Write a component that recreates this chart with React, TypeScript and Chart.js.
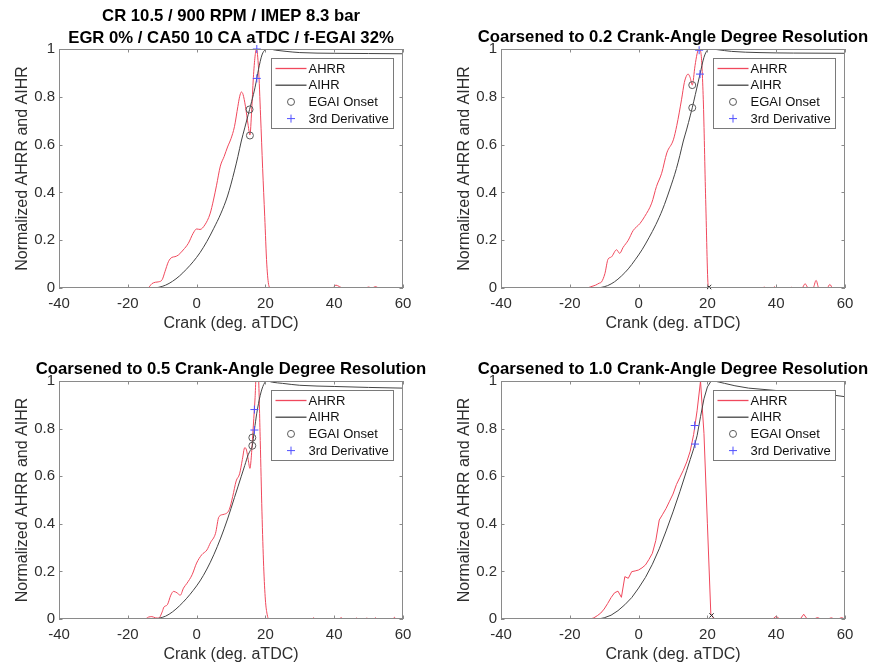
import React, { useEffect, useRef } from 'react';
import { Chart, registerables } from 'chart.js';

Chart.register(...registerables);

const FONT = "'Liberation Sans', Arial, Helvetica, sans-serif";
Chart.defaults.font.family = FONT;

// ---------- shared axis content ----------
const crankTicks = [-40, -20, 0, 20, 40, 60];
const normTicks = [0, 0.2, 0.4, 0.6, 0.8, 1];
const xAxisTitle = 'Crank (deg. aTDC)';
const yAxisTitle = 'Normalized AHRR and AIHR';
const seriesNames = ['AHRR', 'AIHR', 'EGAI Onset', '3rd Derivative'];

// ---------- panel titles ----------
const title1 = ['CR 10.5 / 900 RPM / IMEP 8.3 bar', 'EGR 0% / CA50 10 CA aTDC / f-EGAI 32%'];
const title2 = ['Coarsened to 0.2 Crank-Angle Degree Resolution'];
const title3 = ['Coarsened to 0.5 Crank-Angle Degree Resolution'];
const title4 = ['Coarsened to 1.0 Crank-Angle Degree Resolution'];

// ---------- panel 1 (original resolution) ----------
const p1AhrrCrank = [-40, -15, -14, -13, -12, -11, -10, -9.2, -8.2, -7.2, -6.3, -5.3, -3.9, -2.4, -1, 0, 1, 2.4, 3.9, 4.9, 5.8, 6.9, 8, 9, 10, 11, 12, 12.5, 13, 13.5, 14.2, 15, 15.5, 16, 16.5, 17, 17.4, 18, 18.6, 19.2, 19.8, 20.4, 21, 21.5, 39.5, 40.5, 41.5, 42.5, 49, 50, 51, 52, 53, 60];
const p1AhrrValue = [0, 0, 0.002, 0.018, 0.024, 0.026, 0.035, 0.068, 0.11, 0.128, 0.131, 0.138, 0.159, 0.187, 0.229, 0.247, 0.245, 0.264, 0.31, 0.368, 0.43, 0.51, 0.55, 0.59, 0.625, 0.675, 0.76, 0.8, 0.82, 0.81, 0.76, 0.68, 0.64, 0.74, 0.88, 0.97, 1.0, 0.92, 0.72, 0.5, 0.3, 0.1, 0.01, 0, 0, 0.012, 0.006, 0, 0, 0.004, 0, 0.006, 0, 0];
const p1AihrCrank = [-40, -13, -11, -9, -7, -5, -3, -1, 1, 3, 5, 7, 9, 11, 12, 13, 14, 15, 15.4, 16, 17, 17.5, 18, 19, 20, 21, 23, 26, 30, 40, 50, 60];
const p1AihrValue = [0, 0, 0.003, 0.012, 0.028, 0.05, 0.078, 0.11, 0.148, 0.195, 0.25, 0.31, 0.385, 0.49, 0.55, 0.615, 0.67, 0.725, 0.747, 0.78, 0.84, 0.877, 0.915, 0.975, 0.997, 1.0, 0.995, 0.99, 0.985, 0.982, 0.981, 0.98];
const p1OnsetCrank = [15.4, 15.5];
const p1OnsetValue = [0.747, 0.638];
const p1DerivCrank = [17.5, 17.5];
const p1DerivValue = [1.0, 0.877];

// ---------- panel 2 (0.2 CAD) ----------
const p2AhrrCrank = [-40, -15, -14, -12.5, -11.5, -10.8, -9.8, -8.9, -7.9, -6.4, -5.5, -4.5, -3, -1.6, 0.4, 1.8, 3.8, 5.2, 6.7, 8.2, 10.1, 11.1, 12.5, 13.3, 14, 14.4, 15, 15.6, 16.4, 17, 17.5, 18.1, 18.8, 19.5, 20.3, 36, 36.5, 37, 39, 39.5, 40, 44, 44.5, 45, 47.5, 48.4, 49.3, 50.7, 51.6, 52.4, 54.8, 55.6, 56.4, 60];
const p2AhrrValue = [0, 0, 0.005, 0.012, 0.02, 0.025, 0.06, 0.12, 0.13, 0.16, 0.145, 0.17, 0.2, 0.24, 0.27, 0.3, 0.355, 0.425, 0.48, 0.565, 0.62, 0.68, 0.79, 0.86, 0.89, 0.895, 0.88, 0.849, 0.93, 0.98, 1.0, 0.985, 0.79, 0.37, 0, 0, 0.004, 0, 0, 0.005, 0, 0, 0.003, 0, 0, 0.018, 0, 0, 0.032, 0, 0, 0.015, 0, 0];
const p2AihrCrank = [-40, -12, -11, -9, -7, -5, -3, -1, 1, 3, 5, 7, 9, 11, 12, 13, 14, 15, 15.6, 16.5, 17.85, 19, 20, 21, 23, 27, 35, 45, 60];
const p2AihrValue = [0, 0, 0.002, 0.01, 0.026, 0.05, 0.08, 0.118, 0.16, 0.21, 0.265, 0.33, 0.41, 0.5, 0.555, 0.615, 0.665, 0.72, 0.754, 0.81, 0.895, 0.965, 0.995, 1.0, 0.997, 0.99, 0.985, 0.983, 0.982];
const p2OnsetCrank = [15.6, 15.6];
const p2OnsetValue = [0.849, 0.754];
const p2DerivCrank = [17.6, 17.85];
const p2DerivValue = [0.995, 0.895];
const p2EndCrank = [20.5];
const p2EndValue = [0.004];

// ---------- panel 3 (0.5 CAD) ----------
const p3AhrrCrank = [-40, -15, -14, -13, -12, -11, -10, -9.5, -8.5, -7.5, -6.7, -5.7, -4.75, -3.8, -2.8, -1.3, 0, 1.5, 3, 4, 5.5, 6.5, 8, 9.5, 10.5, 11.5, 12.5, 13.3, 14, 14.5, 15, 15.5, 16, 16.5, 17, 17.5, 18, 18.5, 19, 19.5, 20, 20.5, 21, 33.5, 34, 34.5, 41.5, 42, 42.5, 46, 46.5, 47, 49, 49.5, 50, 51.5, 52, 52.5, 57, 57.5, 58, 60];
const p3AhrrValue = [0, 0, 0.008, 0.01, 0.005, 0.004, 0.03, 0.05, 0.06, 0.1, 0.116, 0.11, 0.1, 0.13, 0.15, 0.186, 0.235, 0.27, 0.29, 0.32, 0.36, 0.43, 0.44, 0.46, 0.515, 0.58, 0.61, 0.67, 0.72, 0.71, 0.67, 0.633, 0.7, 0.815, 0.93, 1.08, 1.02, 0.75, 0.45, 0.22, 0.08, 0.02, 0, 0, 0.005, 0, 0, 0.006, 0, 0, 0.004, 0, 0, 0.004, 0, 0, 0.005, 0, 0, 0.007, 0, 0];
const p3AihrCrank = [-40, -12, -11, -9, -7, -5, -3, -1, 1, 3, 5, 7, 9, 11, 12, 13, 14, 15, 15.5, 16.2, 16.8, 17.5, 18.5, 19.5, 20.5, 22, 25, 30, 40, 50, 60];
const p3AihrValue = [0, 0, 0.003, 0.012, 0.03, 0.055, 0.085, 0.12, 0.16, 0.21, 0.27, 0.34, 0.42, 0.51, 0.555, 0.6, 0.645, 0.69, 0.705, 0.728, 0.794, 0.865, 0.94, 0.985, 1.0, 0.995, 0.99, 0.982, 0.977, 0.973, 0.97];
const p3OnsetCrank = [16.2, 16.2];
const p3OnsetValue = [0.762, 0.728];
const p3DerivCrank = [16.8, 16.8];
const p3DerivValue = [0.88, 0.794];

// ---------- panel 4 (1.0 CAD) ----------
const p4AhrrCrank = [-40, -14, -13, -12, -11, -10, -9, -8, -7, -6, -5, -4, -3, -2, -1, 0, 1, 2, 3, 4, 5, 6, 7, 8, 9, 10, 11, 12, 13, 14, 15, 16, 17, 18, 19, 20, 21, 22, 39, 40, 41, 47, 48, 49, 51, 52, 53, 55, 56, 57, 58, 59, 60];
const p4AhrrValue = [0, 0, 0.005, 0.014, 0.025, 0.042, 0.065, 0.09, 0.11, 0.117, 0.091, 0.178, 0.171, 0.199, 0.202, 0.206, 0.215, 0.227, 0.25, 0.276, 0.33, 0.416, 0.44, 0.465, 0.495, 0.525, 0.565, 0.595, 0.625, 0.66, 0.705, 0.775, 0.875, 1.0, 0.78, 0.4, 0.02, 0, 0, 0.012, 0, 0, 0.02, 0, 0, 0.006, 0, 0, 0.005, 0, 0, 0.006, 0];
const p4AihrCrank = [-40, -12, -11, -10, -8, -6, -4, -2, 0, 2, 4, 6, 8, 10, 12, 14, 15, 16, 17, 18, 19, 20, 21, 22, 25, 28, 32, 40, 50, 57, 60];
const p4AihrValue = [0, 0, 0.002, 0.005, 0.016, 0.035, 0.06, 0.09, 0.13, 0.175, 0.23, 0.295, 0.37, 0.45, 0.535, 0.625, 0.67, 0.715, 0.77, 0.85, 0.925, 0.975, 0.998, 1.0, 0.99, 0.98, 0.97, 0.96, 0.948, 0.94, 0.934];
const p4OnsetCrank: number[] = [];
const p4OnsetValue: number[] = [];
const p4DerivCrank = [16.3, 16.4];
const p4DerivValue = [0.813, 0.735];
const p4EndCrank = [21.2];
const p4EndValue = [0.015];

// ---------- styles ----------
const RED = 'rgb(240, 72, 92)';
const DARK = 'rgb(68, 68, 68)';
const BLUE = 'rgb(80, 80, 255)';
const RING = 'rgb(90, 90, 90)';
const AXIS_COLOR = '#8a8a8a';
const LEGEND_EDGE = '#7a7a7a';
const TEXT_COLOR = '#2e2e2e';
const CH = 334;

type Panel = {
  title: string[];
  ahrr: [number[], number[]];
  aihr: [number[], number[]];
  onset: [number[], number[]];
  deriv: [number[], number[]];
  end?: [number[], number[]];
  smooth: boolean;
  left: number;
  top: number;
  width: number;
  area: { l: number; r: number; t: number; b: number };
  titleY: number[];
};

const panels: Panel[] = [
  { title: title1, ahrr: [p1AhrrCrank, p1AhrrValue], aihr: [p1AihrCrank, p1AihrValue], onset: [p1OnsetCrank, p1OnsetValue], deriv: [p1DerivCrank, p1DerivValue], smooth: true, left: 0, top: 0, width: 430, area: { l: 59, r: 403, t: 49, b: 288 }, titleY: [16.5, 38.5] },
  { title: title2, ahrr: [p2AhrrCrank, p2AhrrValue], aihr: [p2AihrCrank, p2AihrValue], onset: [p2OnsetCrank, p2OnsetValue], deriv: [p2DerivCrank, p2DerivValue], end: [p2EndCrank, p2EndValue], smooth: true, left: 430, top: 0, width: 440, area: { l: 71, r: 415, t: 49, b: 288 }, titleY: [37.5] },
  { title: title3, ahrr: [p3AhrrCrank, p3AhrrValue], aihr: [p3AihrCrank, p3AihrValue], onset: [p3OnsetCrank, p3OnsetValue], deriv: [p3DerivCrank, p3DerivValue], smooth: true, left: 0, top: 334, width: 430, area: { l: 59, r: 403, t: 47, b: 285 }, titleY: [35] },
  { title: title4, ahrr: [p4AhrrCrank, p4AhrrValue], aihr: [p4AihrCrank, p4AihrValue], onset: [p4OnsetCrank, p4OnsetValue], deriv: [p4DerivCrank, p4DerivValue], end: [p4EndCrank, p4EndValue], smooth: false, left: 430, top: 334, width: 440, area: { l: 71, r: 415, t: 47, b: 285 }, titleY: [35] },
];

const zip = (xs: number[], ys: number[]) => xs.map((x, i) => ({ x, y: ys[i] }));

function drawMarker(ctx: CanvasRenderingContext2D, style: string, x: number, y: number, r: number, color: string) {
  ctx.save();
  ctx.strokeStyle = color;
  ctx.lineWidth = 1;
  ctx.beginPath();
  if (style === 'circle') {
    ctx.arc(x, y, r, 0, Math.PI * 2);
  } else if (style === 'cross') {
    ctx.moveTo(x - r, y);
    ctx.lineTo(x + r, y);
    ctx.moveTo(x, y - r);
    ctx.lineTo(x, y + r);
  } else {
    ctx.moveTo(x - r, y - r);
    ctx.lineTo(x + r, y + r);
    ctx.moveTo(x + r, y - r);
    ctx.lineTo(x - r, y + r);
  }
  ctx.stroke();
  ctx.restore();
}

const matlabFrame = {
  id: 'matlabFrame',
  afterDatasetsDraw(chart: any) {
    const { ctx, chartArea: a, scales } = chart;
    const xs = scales.x;
    const ys = scales.y;
    ctx.save();
    ctx.strokeStyle = AXIS_COLOR;
    ctx.lineWidth = 1;
    ctx.strokeRect(a.left + 0.5, a.top + 0.5, a.right - a.left - 1, a.bottom - a.top - 1);
    const tl = 3.5;
    ctx.beginPath();
    xs.ticks.forEach((t: any) => {
      const px = Math.round(xs.getPixelForValue(t.value)) + 0.5;
      ctx.moveTo(px, a.bottom);
      ctx.lineTo(px, a.bottom - tl);
      ctx.moveTo(px, a.top);
      ctx.lineTo(px, a.top + tl);
    });
    ys.ticks.forEach((t: any) => {
      const py = Math.round(ys.getPixelForValue(t.value)) + 0.5;
      ctx.moveTo(a.left, py);
      ctx.lineTo(a.left + tl, py);
      ctx.moveTo(a.right, py);
      ctx.lineTo(a.right - tl, py);
    });
    ctx.stroke();

    // legend box (inside, north-east)
    const w = 122;
    const h = 70;
    const bx = Math.round(a.right - 10 - w) + 0.5;
    const by = Math.round(a.top + 9) + 0.5;
    ctx.fillStyle = '#ffffff';
    ctx.fillRect(bx, by, w, h);
    ctx.strokeStyle = LEGEND_EDGE;
    ctx.strokeRect(bx, by, w, h);
    const items = chart.data.datasets
      .filter((d: any) => seriesNames.includes(d.label))
      .sort((p: any, q: any) => seriesNames.indexOf(p.label) - seriesNames.indexOf(q.label));
    ctx.font = `13px ${FONT}`;
    ctx.textBaseline = 'middle';
    ctx.textAlign = 'left';
    items.forEach((d: any, i: number) => {
      const cy = by + 10 + i * 16.7;
      if (d.showLine === false) {
        drawMarker(ctx, d.pointStyle, bx + 19.5, cy, d.pointRadius, d.legendColor);
      } else {
        ctx.save();
        ctx.strokeStyle = d.legendColor;
        ctx.lineWidth = 1.3;
        ctx.beginPath();
        ctx.moveTo(bx + 4, cy);
        ctx.lineTo(bx + 35, cy);
        ctx.stroke();
        ctx.restore();
      }
      ctx.fillStyle = '#111111';
      ctx.fillText(d.label, bx + 37, cy + 0.5);
    });
    ctx.restore();
  },
  afterDraw(chart: any, _args: any, opts: any) {
    const { ctx, chartArea: a } = chart;
    const lines: string[] = opts.lines || [];
    const ysPos: number[] = opts.ys || [];
    ctx.save();
    ctx.font = `bold 16.7px ${FONT}`;
    ctx.fillStyle = '#000000';
    ctx.textAlign = 'center';
    ctx.textBaseline = 'middle';
    lines.forEach((s, i) => ctx.fillText(s, (a.left + a.right) / 2, ysPos[i]));
    ctx.restore();
  },
};

function buildConfig(p: Panel): any {
  const { l, r, t, b } = p.area;
  const lineMode = p.smooth ? 'monotone' : 'default';
  const datasets: any[] = [
    { label: 'AHRR', legendColor: RED, data: zip(p.ahrr[0], p.ahrr[1]), borderColor: RED, backgroundColor: RED, borderWidth: 1, pointRadius: 0, cubicInterpolationMode: lineMode, tension: 0, fill: false, order: 3 },
    { label: 'AIHR', legendColor: DARK, data: zip(p.aihr[0], p.aihr[1]), borderColor: DARK, backgroundColor: DARK, borderWidth: 1, pointRadius: 0, cubicInterpolationMode: lineMode, tension: 0, fill: false, order: 2 },
    { label: 'EGAI Onset', legendColor: RING, data: zip(p.onset[0], p.onset[1]), showLine: false, pointStyle: 'circle', pointRadius: 3.5, pointBorderWidth: 1, pointBorderColor: RING, pointBackgroundColor: 'rgba(0,0,0,0)', clip: false, order: 1 },
    { label: '3rd Derivative', legendColor: BLUE, data: zip(p.deriv[0], p.deriv[1]), showLine: false, pointStyle: 'cross', pointRadius: 4, pointBorderWidth: 1, pointBorderColor: BLUE, pointBackgroundColor: BLUE, clip: false, order: 0 },
  ];
  if (p.end) {
    datasets.push({ label: 'end', data: zip(p.end[0], p.end[1]), showLine: false, pointStyle: 'crossRot', pointRadius: 3, pointBorderWidth: 1, pointBorderColor: '#222222', clip: false, order: 0 });
  }
  return {
    type: 'line',
    data: { datasets },
    options: {
      responsive: false,
      animation: false,
      devicePixelRatio: 1,
      events: [],
      layout: { padding: { left: 0, top: t, right: p.width - r, bottom: 0 } },
      plugins: {
        legend: { display: false },
        title: { display: false },
        tooltip: { enabled: false },
        matlabFrame: { lines: p.title, ys: p.titleY },
      },
      scales: {
        x: {
          type: 'linear',
          min: crankTicks[0],
          max: crankTicks[crankTicks.length - 1],
          grid: { display: false, drawTicks: false },
          border: { display: false },
          afterBuildTicks: (s: any) => { s.ticks = crankTicks.map((v) => ({ value: v })); },
          afterFit: (s: any) => { s.height = CH - b; },
          ticks: { color: TEXT_COLOR, font: { size: 15 }, padding: 7, maxRotation: 0, autoSkip: false, callback: (v: any) => String(v) },
          title: { display: true, text: xAxisTitle, color: TEXT_COLOR, font: { size: 16 }, padding: { top: 0, bottom: CH - 9.6 - (b + 36) } },
        },
        y: {
          type: 'linear',
          min: normTicks[0],
          max: normTicks[normTicks.length - 1],
          grid: { display: false, drawTicks: false },
          border: { display: false },
          afterBuildTicks: (s: any) => { s.ticks = normTicks.map((v) => ({ value: v })); },
          afterFit: (s: any) => { s.width = l; },
          ticks: { color: TEXT_COLOR, font: { size: 15 }, padding: 4, autoSkip: false, callback: (v: any) => String(v) },
          title: { display: true, text: yAxisTitle, color: TEXT_COLOR, font: { size: 16 }, padding: { top: l - 36 - 9.6, bottom: 0 } },
        },
      },
    },
    plugins: [matlabFrame],
  };
}

function PanelChart({ p }: { p: Panel }) {
  const ref = useRef<HTMLCanvasElement>(null);
  useEffect(() => {
    const chart = new Chart(ref.current as HTMLCanvasElement, buildConfig(p));
    return () => chart.destroy();
  }, [p]);
  return (
    <canvas
      ref={ref}
      width={p.width}
      height={CH}
      style={{ position: 'absolute', left: p.left, top: p.top, width: p.width, height: CH }}
    />
  );
}

export default function App() {
  return (
    <div style={{ position: 'absolute', left: 0, top: 0, width: 870, height: 668, background: '#ffffff' }}>
      {panels.map((p, i) => (
        <PanelChart key={i} p={p} />
      ))}
    </div>
  );
}
